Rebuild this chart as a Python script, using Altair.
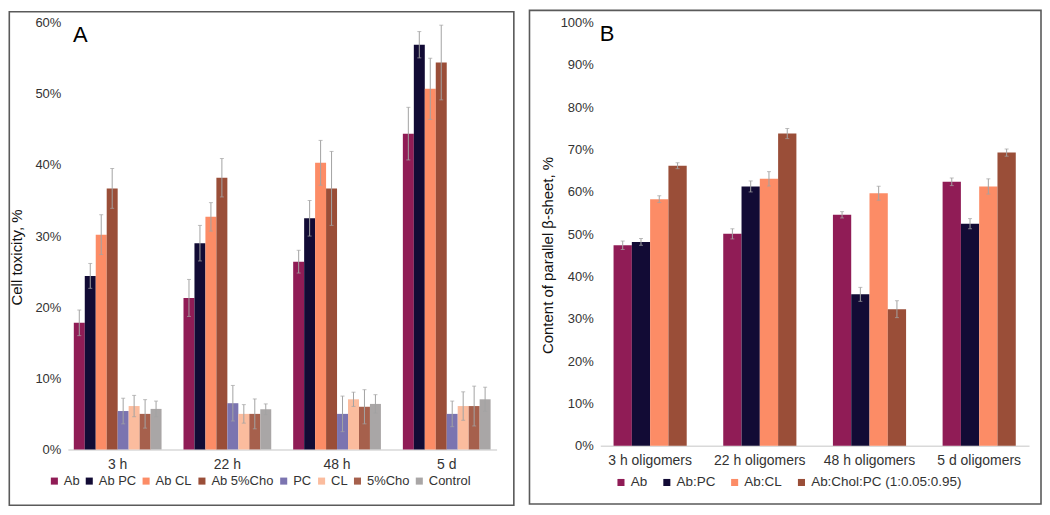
import altair as alt
import pandas as pd

# ---------------- Panel A data ----------------
times_a = ["3 h", "22 h", "48 h", "5 d"]
series_a = ["Ab", "Ab PC", "Ab CL", "Ab 5%Cho", "PC", "CL", "5%Cho", "Control"]
colors_a = ["#901C56", "#120B35", "#FC8C66", "#9A4E38", "#7B74B0", "#FBBC9E", "#A6604C", "#A9A6A6"]
vals_a = {
    "Ab":       [17.8, 21.3, 26.4, 44.4],
    "Ab PC":    [24.4, 29.0, 32.5, 56.9],
    "Ab CL":    [30.2, 32.7, 40.3, 50.7],
    "Ab 5%Cho": [36.7, 38.2, 36.7, 54.4],
    "PC":       [5.4, 6.5, 5.0, 5.0],
    "CL":       [6.1, 5.0, 7.05, 6.1],
    "5%Cho":    [5.0, 5.0, 6.0, 6.1],
    "Control":  [5.7, 5.65, 6.4, 7.05],
}
errs_a = {
    "Ab":       [1.8, 2.6, 1.6, 3.7],
    "Ab PC":    [1.75, 2.5, 2.5, 1.85],
    "Ab CL":    [2.8, 2.0, 3.15, 4.3],
    "Ab 5%Cho": [2.8, 2.7, 5.2, 5.25],
    "PC":       [1.8, 2.5, 2.5, 1.8],
    "CL":       [1.5, 1.3, 1.0, 2.0],
    "5%Cho":    [2.0, 2.1, 2.4, 2.8],
    "Control":  [1.1, 0.75, 1.3, 1.7],
}
ticks_a = [0, 10, 20, 30, 40, 50, 60]

# ---------------- Panel B data ----------------
times_b = ["3 h oligomers", "22 h oligomers", "48 h oligomers", "5 d oligomers"]
series_b = ["Ab", "Ab:PC", "Ab:CL", "Ab:Chol:PC (1:0.05:0.95)"]
colors_b = ["#901C56", "#120B35", "#FC8C66", "#9A4E38"]
vals_b = {
    "Ab":                       [47.4, 50.1, 54.6, 62.4],
    "Ab:PC":                    [48.2, 61.3, 35.8, 52.5],
    "Ab:CL":                    [58.3, 63.1, 59.7, 61.3],
    "Ab:Chol:PC (1:0.05:0.95)": [66.2, 73.8, 32.3, 69.3],
}
errs_b = {
    "Ab":                       [1.0, 1.2, 0.75, 0.9],
    "Ab:PC":                    [0.8, 1.3, 1.65, 1.2],
    "Ab:CL":                    [0.8, 1.7, 1.65, 1.8],
    "Ab:Chol:PC (1:0.05:0.95)": [0.7, 1.2, 2.0, 0.85],
}
ticks_b = [0, 10, 20, 30, 40, 50, 60, 70, 80, 90, 100]

FONT = "Liberation Sans"
TXT = "#333333"
ERR = "#A3A3A3"
BORDER = "#5A5A5A"


def make_df(times, series, vals, errs):
    rows = []
    for s in series:
        for i, t in enumerate(times):
            v = vals[s][i]
            e = errs[s][i]
            rows.append({"time": t, "series": s, "value": v, "lo": v - e, "hi": v + e})
    return pd.DataFrame(rows)


def panel(df, times, series, colors, ymax, yticks, ytitle, letter,
          w, h, pin, pout, title_pad, title_y, letter_x, letter_y,
          legend_x, legend_y, col_pad, leg_font, border):
    x = alt.X("time:N", sort=times, title=None,
              scale=alt.Scale(paddingInner=pin, paddingOuter=pout),
              axis=alt.Axis(labelAngle=0, labelFontSize=14, labelFont=FONT, labelColor=TXT,
                            domainColor="#D9D9D9", domainWidth=1.5, ticks=False,
                            labelPadding=8, grid=False))
    xo = alt.XOffset("series:N", sort=series, scale=alt.Scale(paddingInner=0, paddingOuter=0))
    y = alt.Y("value:Q", title=ytitle,
              scale=alt.Scale(domain=[0, ymax], nice=False, zero=True),
              axis=alt.Axis(values=yticks, labelExpr="datum.value + '%'", labelFontSize=13,
                            labelFont=FONT, labelColor=TXT, domain=False, ticks=False,
                            grid=False, labelPadding=7, titleFont=FONT, titleFontSize=15,
                            titleFontWeight="normal", titleColor="#111111",
                            titlePadding=title_pad, titleY=title_y))
    color = alt.Color("series:N", sort=series,
                      scale=alt.Scale(domain=series, range=colors),
                      legend=alt.Legend(title=None, orient="none", direction="horizontal",
                                        legendX=legend_x, legendY=legend_y,
                                        symbolType="square", symbolSize=50,
                                        symbolStrokeWidth=0, labelFontSize=leg_font,
                                        labelFont=FONT, labelColor=TXT,
                                        columns=len(series), columnPadding=col_pad,
                                        labelOffset=3))
    base = alt.Chart(df)
    bars = base.mark_bar().encode(x=x, xOffset=xo, y=y, color=color)
    rules = base.mark_rule(color=ERR, strokeWidth=1).encode(
        x=alt.X("time:N", sort=times), xOffset=xo, y="lo:Q", y2="hi:Q")
    cap_lo = base.mark_tick(color=ERR, size=4, thickness=1).encode(
        x=alt.X("time:N", sort=times), xOffset=xo, y="lo:Q")
    cap_hi = base.mark_tick(color=ERR, size=4, thickness=1).encode(
        x=alt.X("time:N", sort=times), xOffset=xo, y="hi:Q")
    one = pd.DataFrame({"k": [letter]})
    txt = alt.Chart(one).mark_text(fontSize=22, font=FONT, color="#000000",
                                   align="left", baseline="alphabetic").encode(
        text="k:N", x=alt.value(letter_x), y=alt.value(letter_y))
    bx0, bx1, by0, by1 = border
    box = alt.Chart(one).mark_rect(filled=False, stroke=BORDER, strokeWidth=1.6).encode(
        x=alt.value(bx0), x2=alt.value(bx1), y=alt.value(by0), y2=alt.value(by1))
    return alt.layer(bars, rules, cap_lo, cap_hi, txt, box).properties(width=w, height=h)


df_a = make_df(times_a, series_a, vals_a, errs_a)
df_b = make_df(times_b, series_b, vals_b, errs_b)

chart_a = panel(df_a, times_a, series_a, colors_a, 60, ticks_a, "Cell toxicity, %", "A",
                430, 428, 0.2, 0.0545, 10, 235, 5.3, 19,
                -20, 453, 3, 13, (-58.7, 447.3, -11, 484))
chart_b = panel(df_b, times_b, series_b, colors_b, 100, ticks_b,
                "Content of parallel β-sheet, %", "B",
                430, 424.4, 0.333, 0.121, 5, 233, -0.5, 18,
                14, 454, 12, 13.5, (-71, 442, -12.3, 482.7))

chart = alt.hconcat(chart_a, chart_b, spacing=13, padding=0).resolve_scale(
    color="independent", x="independent", y="independent", xOffset="independent"
).configure_view(stroke=None)

chart.save("out.html", embed_options={"renderer": "svg", "actions": False})
